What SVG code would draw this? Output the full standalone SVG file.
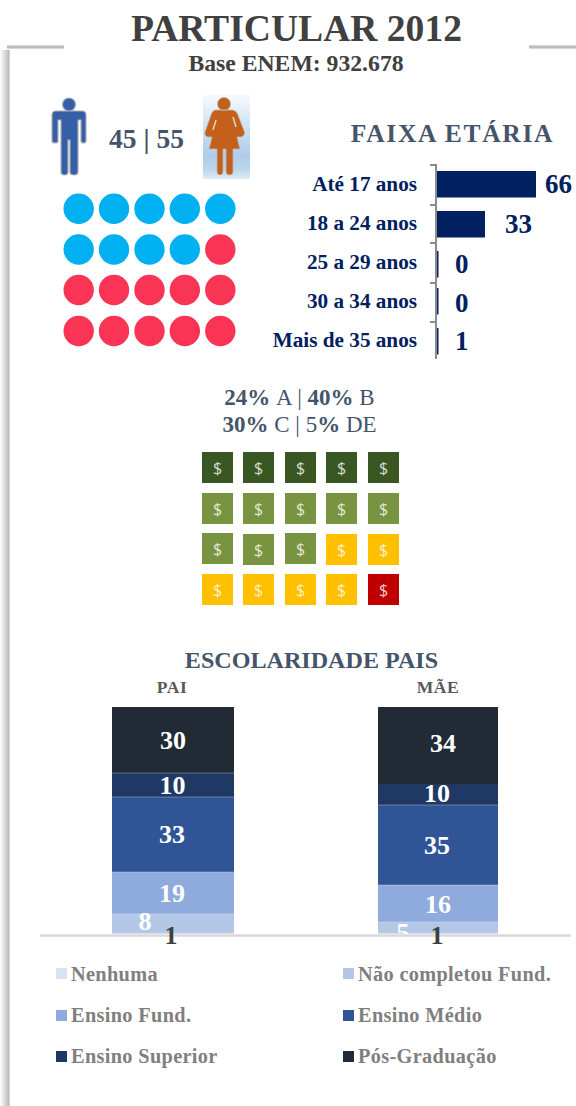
<svg xmlns="http://www.w3.org/2000/svg" width="576" height="1106" viewBox="0 0 576 1106">
<style>
text{font-family:"Liberation Serif","Times New Roman",serif;font-weight:bold}
.lab{font-size:21.200px;fill:#002060;text-anchor:end}
.val{font-size:27px;fill:#002060}
.cir-b{fill:#00b0f0}.cir-r{fill:#f93455}
.d1{fill:#385723}.d2{fill:#789440}.d3{fill:#ffc000}.d4{fill:#c00000}
.ds{font-family:"Open Sans","Liberation Sans",sans-serif;font-weight:normal;font-size:16px;text-anchor:middle;fill:#fff;fill-opacity:.8}
.st{font-size:26px;fill:#fff;text-anchor:middle}
.one{font-size:26px;fill:#404040;text-anchor:middle}
.leg{font-size:20.300px;fill:#7f7f7f;letter-spacing:.35px}
.tick{stroke:#8c8c8c;stroke-width:2;fill:none}
.n0{fill:#dae3f3}.n1{fill:#b4c7e7}.n2{fill:#8faadc}.n3{fill:#2f5597}.n4{fill:#1f3864}.n5{fill:#222a35}
.sep{stroke:#fff;stroke-opacity:.3;stroke-width:1}
</style>
<defs>
<linearGradient id="wbg" x1="0" y1="0" x2="0" y2="1"><stop offset="0" stop-color="#f6f9fd"/><stop offset=".72" stop-color="#aecde9"/><stop offset=".88" stop-color="#bcd6ec"/><stop offset="1" stop-color="#dfeaf5"/></linearGradient>
<linearGradient id="band" x1="0" y1="0" x2="1" y2="0"><stop offset="0" stop-color="#fff"/><stop offset=".2" stop-color="#f0f0f0"/><stop offset=".85" stop-color="#bdbdbd"/><stop offset=".93" stop-color="#c4c4c4"/><stop offset="1" stop-color="#f4f4f4"/></linearGradient>
<linearGradient id="bandh" x1="0" y1="0" x2="0" y2="1"><stop offset="0" stop-color="#ececec"/><stop offset=".3" stop-color="#bdbdbd"/><stop offset=".7" stop-color="#bdbdbd"/><stop offset="1" stop-color="#ececec"/></linearGradient>
<filter id="soft" x="-20%" y="-20%" width="140%" height="140%"><feGaussianBlur stdDeviation=".5"/></filter>
<clipPath id="abv"><rect x="0" y="0" width="576" height="934"/></clipPath>
</defs>

<g id="frame">
<rect x="0" y="50" width="10" height="1056" fill="url(#band)"/>
<rect x="7" y="45" width="57" height="4" fill="url(#bandh)"/>
<rect x="529" y="45" width="47" height="4" fill="url(#bandh)"/>
</g>

<g id="title">
<text x="296.500" y="41" font-size="37.600" fill="#404040" text-anchor="middle">PARTICULAR 2012</text>
<text x="296" y="70.500" font-size="23.700" fill="#404040" text-anchor="middle">Base ENEM: 932.678</text>
</g>

<g id="gender">
<g id="man" filter="url(#soft)">
<path d="M69 98c3.600 0 6.500 2.900 6.500 6.500s-2.900 6.500-6.500 6.500-6.500-2.900-6.500-6.500 2.900-6.500 6.500-6.500zM56 111H82Q86 111 86 115V141Q86 143 83.500 143Q81 143 81 141V120H78V172Q78 175 74 175Q70 175 70 172V140H68V172Q68 175 64.500 175Q61 175 61 172V120H58V141Q58 143 55 143Q52 143 52 141V115Q52 111 56 111Z" fill="#3560a8" stroke="#a9adb5" stroke-width="1.200"/>
</g>
<text x="146.500" y="147.500" font-size="27.500" fill="#44546a" text-anchor="middle">45 | 55</text>
<g id="woman">
<rect x="203" y="95" width="47" height="84" fill="url(#wbg)"/>
<g filter="url(#soft)">
<path d="M224 97.500c3.600 0 6.500 2.900 6.500 6.500s-2.900 6.500-6.500 6.500-6.500-2.900-6.500-6.500 2.900-6.500 6.500-6.500zM215 110H233Q237 111 238 115L244.500 132Q245 136 241 137H237L240 149H233V172Q233 175 229.500 175Q226 175 226 172V149H223V172Q223 175 220 175Q217 175 217 172V149H209L212 137H208Q204 136 205 132L211 115Q212 111 215 110Z" fill="#c55f1c" stroke="#b9b9b9" stroke-width=".8"/>
<path d="M216 120L213 130M233 117L236 127" stroke="#e2d5c8" stroke-width="1.500" fill="none"/>
</g>
</g>
</g>

<g id="gender-dots">
<circle class="cir-b" cx="78.700" cy="208.700" r="15.200"/><circle class="cir-b" cx="114" cy="208.700" r="15.200"/><circle class="cir-b" cx="149.500" cy="208.700" r="15.200"/><circle class="cir-b" cx="184.800" cy="208.700" r="15.200"/><circle class="cir-b" cx="220.300" cy="208.700" r="15.200"/>
<circle class="cir-b" cx="78.700" cy="249.500" r="15.200"/><circle class="cir-b" cx="114" cy="249.500" r="15.200"/><circle class="cir-b" cx="149.500" cy="249.500" r="15.200"/><circle class="cir-b" cx="184.800" cy="249.500" r="15.200"/><circle class="cir-r" cx="220.300" cy="249.500" r="15.200"/>
<circle class="cir-r" cx="78.700" cy="290" r="15.200"/><circle class="cir-r" cx="114" cy="290" r="15.200"/><circle class="cir-r" cx="149.500" cy="290" r="15.200"/><circle class="cir-r" cx="184.800" cy="290" r="15.200"/><circle class="cir-r" cx="220.300" cy="290" r="15.200"/>
<circle class="cir-r" cx="78.700" cy="331" r="15.200"/><circle class="cir-r" cx="114" cy="331" r="15.200"/><circle class="cir-r" cx="149.500" cy="331" r="15.200"/><circle class="cir-r" cx="184.800" cy="331" r="15.200"/><circle class="cir-r" cx="220.300" cy="331" r="15.200"/>
</g>

<g id="age">
<text x="452.500" y="142" font-size="25.500" letter-spacing="1.700" fill="#44546a" text-anchor="middle">FAIXA ETÁRIA</text>
<path class="tick" d="M430 165H436V359M430 205H436M430 243H436M430 283H436M430 322H436"/>
<rect x="437" y="171" width="99" height="26.500" fill="#002060"/>
<rect x="437" y="211" width="48" height="26.500" fill="#002060"/>
<rect x="437" y="251" width="1.500" height="26.500" fill="#002060"/>
<rect x="437" y="288" width="1.500" height="26.500" fill="#002060"/>
<rect x="437" y="328" width="1.500" height="26.500" fill="#002060"/>
<text class="lab" x="417" y="191">Até 17 anos</text>
<text class="lab" x="417" y="230">18 a 24 anos</text>
<text class="lab" x="417" y="269">25 a 29 anos</text>
<text class="lab" x="417" y="308">30 a 34 anos</text>
<text class="lab" x="417" y="347">Mais de 35 anos</text>
<text class="val" x="545" y="193">66</text>
<text class="val" x="505" y="233">33</text>
<text class="val" x="455" y="273">0</text>
<text class="val" x="455" y="312">0</text>
<text class="val" x="455" y="350">1</text>
</g>

<g id="income">
<text x="299.500" y="405" font-size="23" fill="#44546a" text-anchor="middle">24% <tspan font-weight="normal">A | </tspan>40% <tspan font-weight="normal">B</tspan></text>
<text x="299.500" y="432" font-size="23" fill="#44546a" text-anchor="middle">30% <tspan font-weight="normal">C | 5</tspan>% <tspan font-weight="normal">DE</tspan></text>
<rect class="d1" x="202" y="452" width="31" height="31"/><rect class="d1" x="243" y="452" width="31" height="31"/><rect class="d1" x="285" y="452" width="31" height="31"/><rect class="d1" x="326" y="452" width="31" height="31"/><rect class="d1" x="368" y="452" width="31" height="31"/>
<rect class="d2" x="202" y="493" width="31" height="31"/><rect class="d2" x="243" y="493" width="31" height="31"/><rect class="d2" x="285" y="493" width="31" height="31"/><rect class="d2" x="326" y="493" width="31" height="31"/><rect class="d2" x="368" y="493" width="31" height="31"/>
<rect class="d2" x="202" y="533" width="31" height="31"/><rect class="d2" x="243" y="534" width="31" height="31"/><rect class="d2" x="285" y="533" width="31" height="31"/><rect class="d3" x="326" y="534" width="31" height="31"/><rect class="d3" x="368" y="534" width="31" height="31"/>
<rect class="d3" x="202" y="574" width="31" height="31"/><rect class="d3" x="243" y="574" width="31" height="31"/><rect class="d3" x="285" y="574" width="31" height="31"/><rect class="d3" x="326" y="574" width="31" height="31"/><rect class="d4" x="368" y="574" width="31" height="31"/>
<text class="ds" x="217.500" y="474">$</text><text class="ds" x="258.500" y="474">$</text><text class="ds" x="300.500" y="474">$</text><text class="ds" x="341.500" y="474">$</text><text class="ds" x="383.500" y="474">$</text>
<text class="ds" x="217.500" y="515">$</text><text class="ds" x="258.500" y="515">$</text><text class="ds" x="300.500" y="515">$</text><text class="ds" x="341.500" y="515">$</text><text class="ds" x="383.500" y="515">$</text>
<text class="ds" x="217.500" y="555">$</text><text class="ds" x="258.500" y="556">$</text><text class="ds" x="300.500" y="555">$</text><text class="ds" x="341.500" y="556">$</text><text class="ds" x="383.500" y="556">$</text>
<text class="ds" x="217.500" y="596">$</text><text class="ds" x="258.500" y="596">$</text><text class="ds" x="300.500" y="596">$</text><text class="ds" x="341.500" y="596">$</text><text class="ds" x="383.500" y="596">$</text>
</g>

<g id="education">
<text x="311.500" y="668" font-size="24.100" fill="#44546a" text-anchor="middle">ESCOLARIDADE PAIS</text>
<text x="172" y="692.500" font-size="17.500" letter-spacing=".6" fill="#595959" text-anchor="middle">PAI</text>
<text x="438" y="692.500" font-size="17.500" letter-spacing=".6" fill="#595959" text-anchor="middle">MÃE</text>
<g id="bar-pai">
<rect class="n5" x="112" y="707" width="122" height="66"/>
<rect class="n4" x="112" y="773" width="122" height="24"/>
<rect class="n3" x="112" y="797" width="122" height="75"/>
<rect class="n2" x="112" y="872" width="122" height="42"/>
<rect class="n1" x="112" y="914" width="122" height="19"/>
<rect class="n0" x="112" y="933" width="122" height="1"/>
<path class="sep" d="M112 773H234M112 797H234M112 872H234M112 914H234"/>
<text class="st" x="173" y="749">30</text>
<text class="st" x="172.500" y="794">10</text>
<text class="st" x="172" y="843">33</text>
<text class="st" x="172" y="902">19</text>
<text class="st" x="145" y="930">8</text>
</g>
<g id="bar-mae">
<rect class="n5" x="378" y="707" width="120" height="77"/>
<rect class="n4" x="378" y="784" width="120" height="21"/>
<rect class="n3" x="378" y="805" width="120" height="80"/>
<rect class="n2" x="378" y="885" width="120" height="37"/>
<rect class="n1" x="378" y="922" width="120" height="11"/>
<rect class="n0" x="378" y="933" width="120" height="1"/>
<path class="sep" d="M378 805H498M378 885H498M378 922H498"/>
<text class="st" x="443" y="752">34</text>
<text class="st" x="437" y="802">10</text>
<text class="st" x="437" y="854">35</text>
<text class="st" x="438" y="913">16</text>
<text class="st" x="403" y="941" clip-path="url(#abv)">5</text>
</g>
<path d="M40 935.500H571" stroke="#d9d9d9" stroke-width="2.500"/>
<text class="one" x="171" y="944">1</text>
<text class="one" x="437" y="944">1</text>
</g>

<g id="legend">
<rect class="n0" x="56" y="968" width="11" height="11"/><text class="leg" x="71" y="981">Nenhuma</text>
<rect class="n1" x="343" y="968" width="11" height="11"/><text class="leg" x="358" y="981">Não completou Fund.</text>
<rect class="n2" x="56" y="1010" width="11" height="11"/><text class="leg" x="71" y="1022">Ensino Fund.</text>
<rect class="n3" x="343" y="1010" width="11" height="11"/><text class="leg" x="358" y="1022">Ensino Médio</text>
<rect class="n4" x="56" y="1051" width="11" height="11"/><text class="leg" x="71" y="1063">Ensino Superior</text>
<rect class="n5" x="343" y="1051" width="11" height="11"/><text class="leg" x="358" y="1063">Pós-Graduação</text>
</g>
</svg>
